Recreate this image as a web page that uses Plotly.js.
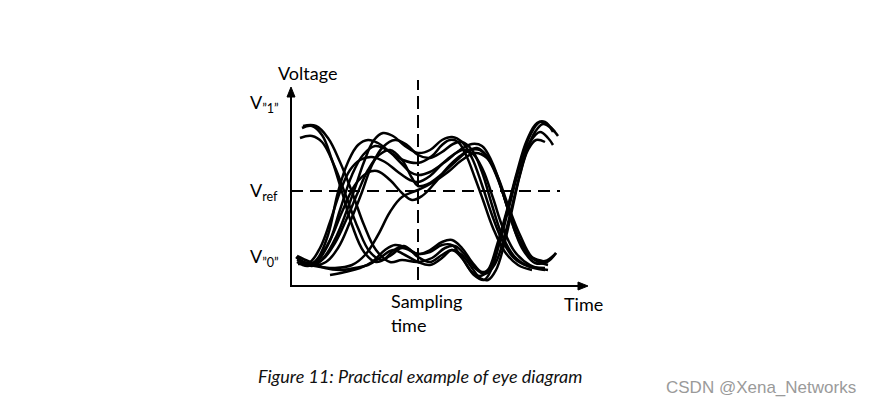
<!DOCTYPE html>
<html>
<head>
<meta charset="utf-8">
<script src="https://cdn.plot.ly/plotly-3.0.1.min.js"></script>
<style>html,body{margin:0;padding:0;background:#fff;}#chart{width:873px;height:406px;}</style>
</head>
<body>
<div id="chart"></div>
<script>
// Time axis: units (0 = voltage axis), voltage: arbitrary units (0 = time axis)
const samplingTime = 127;
const vRef = 95;
const vOneLevel = 183;
const vZeroLevel = 29;

// Upper-eye traces (start low, high at sampling time, end low)
const u1_t = [6,17,27,37,47,57,67,77,87,99,112,127,141,151,159,167,175,184,192,202,214,227,241];
const u1_v = [24,20,28,51,94,124,141,146,143,134,126,123,130,141,146,144,131,108,86,58,34,21,16];
const u2_t = [7,21,34,46,56,64,73,83,92,102,114,127,139,151,161,171,181,191,201,211,223,237,254];
const u2_v = [28,20,30,51,76,98,124,146,153,150,140,133,136,146,149,144,128,101,71,46,28,20,18];
const u3_t = [8,23,37,49,61,72,84,96,109,119,127,139,154,169,181,191,201,211,221,231,244,256,265];
const u3_v = [26,23,41,76,111,131,140,136,124,114,111,114,124,136,142,140,124,96,64,38,23,24,33];
const u4_t = [9,24,39,51,64,76,86,99,111,121,131,143,156,169,179,189,199,209,219,229,241,257];
const u4_v = [23,24,46,74,101,113,115,106,93,86,90,102,118,130,136,136,124,101,71,46,28,21];
const u5_t = [5,17,31,44,56,67,77,88,99,111,121,127,137,151,164,176,186,196,206,216,226,239,257];
const u5_v = [29,22,26,43,68,94,116,131,136,126,108,100,102,112,124,134,138,130,110,80,50,30,24];
const u6_t = [9,24,44,61,74,87,99,111,127,141,157,171,184,196,206,217,229,242,254,265];
const u6_v = [24,20,18,21,31,51,74,89,96,103,114,126,133,128,111,81,51,28,25,33];
const u7_t = [6,21,35,47,59,71,81,92,104,116,127,139,151,162,171,181,191,201,211,223,237,254];
const u7_v = [26,21,24,38,64,94,121,139,146,141,131,128,134,142,144,136,114,81,51,30,20,16];
const u8_t = [7,19,29,39,49,59,69,81,94,107,119,127,139,151,162,172,182,192,202,212,224,239,257];
const u8_v = [22,24,38,64,94,116,126,129,124,114,106,104,110,122,131,136,132,116,88,58,34,21,16];

// Lower-eye traces (low at sampling time, rising at the end)
const l1_t = [11,21,31,41,51,61,73,85,99,111,127,139,151,161,171,181,189,197,206,216,226,236,246,254,262];
const l1_v = [158,160,151,126,94,61,34,24,30,38,32,34,41,41,28,14,10,16,41,76,114,146,163,164,154];
const l2_t = [12,25,37,49,61,73,85,99,111,127,141,154,164,174,184,194,204,214,224,234,244,252,260,267];
const l2_v = [160,160,148,124,94,61,36,24,26,24,28,38,40,31,18,12,22,52,92,130,154,162,158,150];
const l3_t = [9,21,31,43,55,67,79,91,103,113,127,139,151,161,171,183,193,201,209,219,229,239,249,257,262];
const l3_v = [148,150,144,121,90,58,34,26,36,40,29,24,31,36,28,11,6,18,46,86,121,144,154,148,141];
const l4_t = [39,54,69,81,94,104,116,127,139,151,161,171,181,191,199,207,216,225,234,242,249,257,264];
const l4_v = [11,14,18,24,36,41,38,32,36,44,46,38,24,14,18,38,71,106,138,156,164,161,154];
const l5_t = [6,19,34,49,64,77,89,102,114,127,139,151,161,171,181,189,197,205,213,221,229,237,245,254];
const l5_v = [30,24,18,16,18,21,28,36,31,24,21,28,36,31,18,8,6,16,41,76,111,136,146,144];

const curves = [
  [u1_t,u1_v],[u2_t,u2_v],[u3_t,u3_v],[u4_t,u4_v],[u5_t,u5_v],[u6_t,u6_v],[u7_t,u7_v],[u8_t,u8_v],
  [l1_t,l1_v],[l2_t,l2_v],[l3_t,l3_v],[l4_t,l4_v],[l5_t,l5_v]
];

const traces = curves.map(c => ({
  x: c[0], y: c[1], type: 'scatter', mode: 'lines',
  line: {color: '#000', width: 2.5, shape: 'spline', smoothing: 1.1},
  hoverinfo: 'skip', showlegend: false
}));

const timeAxisEnd = 297;
const voltAxisEnd = 199;
const lab = {family: 'Lato, "Open Sans", sans-serif', size: 18, color: '#000'};
const ax = {color: '#000', width: 2};

const layout = {
  width: 873, height: 406,
  margin: {l: 0, r: 0, t: 0, b: 0},
  paper_bgcolor: '#fff', plot_bgcolor: '#fff',
  xaxis: {range: [-291, 582], visible: false, fixedrange: true},
  yaxis: {range: [-120, 286], visible: false, fixedrange: true},
  shapes: [
    {type: 'line', xref: 'x', yref: 'y', x0: 0, x1: 0, y0: -1, y1: voltAxisEnd - 8, line: ax},
    {type: 'path', xref: 'x', yref: 'y', path: `M -4 ${voltAxisEnd-10} L 0 ${voltAxisEnd} L 4 ${voltAxisEnd-10} Z`,
     fillcolor: '#000', line: {color: '#000', width: 1}},
    {type: 'line', xref: 'x', yref: 'y', x0: -1, x1: timeAxisEnd - 8, y0: 0, y1: 0, line: ax},
    {type: 'path', xref: 'x', yref: 'y', path: `M ${timeAxisEnd-10} -4 L ${timeAxisEnd} 0 L ${timeAxisEnd-10} 4 Z`,
     fillcolor: '#000', line: {color: '#000', width: 1}},
    {type: 'line', xref: 'x', yref: 'y', x0: 0, x1: 269, y0: vRef, y1: vRef,
     line: {color: '#000', width: 2, dash: '12px,7px'}},
    {type: 'line', xref: 'x', yref: 'y', x0: samplingTime, x1: samplingTime, y0: 6, y1: 206,
     line: {color: '#000', width: 2, dash: '13px,6px'}}
  ],
  annotations: [
    {x: 16, y: 213, xref: 'x', yref: 'y', text: 'Voltage', showarrow: false, font: lab},
    {x: -43, y: vOneLevel, xref: 'x', yref: 'y', xanchor: 'left', text: 'V<sub>\u201D1\u201D</sub>', showarrow: false, font: lab},
    {x: -43, y: vRef, xref: 'x', yref: 'y', xanchor: 'left', text: 'V<sub>ref</sub>', showarrow: false, font: lab},
    {x: -43, y: vZeroLevel, xref: 'x', yref: 'y', xanchor: 'left', text: 'V<sub>\u201D0\u201D</sub>', showarrow: false, font: lab},
    {x: 98, y: -15, xref: 'x', yref: 'y', xanchor: 'left', text: 'Sampling', showarrow: false, font: lab},
    {x: 98, y: -39, xref: 'x', yref: 'y', xanchor: 'left', text: 'time', showarrow: false, font: lab},
    {x: 271, y: -18, xref: 'x', yref: 'y', xanchor: 'left', text: 'Time', showarrow: false, font: lab},
    {x: 129, y: -90, xref: 'x', yref: 'y', text: '<i>Figure 11: Practical example of eye diagram</i>', showarrow: false,
     font: {family: 'Lato, "Open Sans", sans-serif', size: 18, color: '#111'}},
    {x: 567, y: -101, xref: 'x', yref: 'y', xanchor: 'right', text: 'CSDN @Xena_Networks', showarrow: false,
     font: {family: '"Liberation Sans", Arial, sans-serif', size: 17, color: '#9a9a9a'}}
  ]
};

Plotly.newPlot('chart', traces, layout, {staticPlot: true, displayModeBar: false});
</script>
</body>
</html>
